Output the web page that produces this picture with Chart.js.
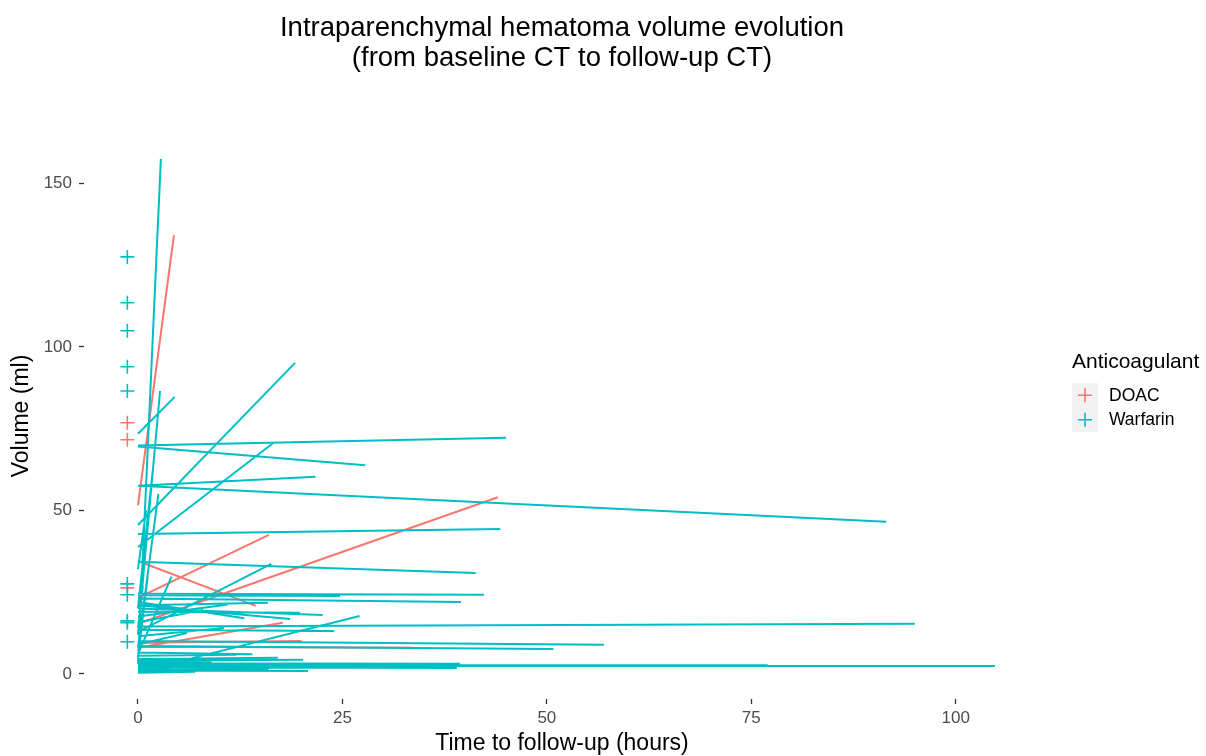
<!DOCTYPE html>
<html>
<head>
<meta charset="utf-8">
<title>Intraparenchymal hematoma volume evolution</title>
<script src="https://cdn.jsdelivr.net/npm/chart.js@4.4.1/dist/chart.umd.min.js"></script>
<style>
  html, body { margin: 0; padding: 0; background: #ffffff; }
  #wrap { width: 1206px; height: 756px; }
</style>
</head>
<body>
<div id="wrap"><canvas id="myChart" width="1206" height="756"></canvas></div>
<script>
// Baseline volume at hour 0, follow-up volume at the follow-up time
const doacHours  = [4.4, 44.0, 16.0, 14.4, 17.7, 33.7, 20.0];
const doacBase   = [51.5, 15.3, 23.2, 34.5, 8.0, 8.3, 9.5];
const doacFollow = [134.2, 54.0, 42.5, 20.8, 15.6, 8.0, 10.0];

const warfarinHours = [2.8, 2.7, 4.5, 2.5, 1.8, 1.0, 1.2, 0.6, 4.1,
  45.0, 27.8, 21.7, 91.5, 44.3, 41.3, 19.2, 16.5, 16.3, 42.3, 24.7, 39.5,
  15.9, 22.6, 19.8, 18.6, 27.1, 24.0, 95.0, 57.0, 50.8, 17.1, 20.2, 39.4,
  104.8, 39.0, 20.8, 77.0, 11.0, 13.0, 8.0, 10.5, 6.0, 14.0, 12.0, 9.0,
  5.0, 16.0, 3.0, 7.0];
const warfarinBase = [3.0, 12.0, 73.4, 8.0, 20.0, 32.0, 5.0, 14.0, 6.0,
  69.8, 69.5, 57.5, 57.5, 42.8, 34.3, 45.5, 38.8, 12.8, 24.5, 24.0, 23.0,
  21.0, 20.0, 19.0, 21.0, 0.6, 13.5, 14.5, 10.0, 8.5, 4.5, 4.0, 3.2,
  2.5, 2.0, 1.0, 2.8, 17.5, 22.0, 15.8, 11.5, 9.0, 6.5, 5.5, 3.5,
  1.5, 1.2, 0.5, 0.3];
const warfarinFollow = [157.5, 86.5, 84.7, 55.0, 62.0, 50.0, 30.0, 27.0, 29.7,
  72.2, 63.8, 60.3, 46.5, 44.3, 30.8, 95.1, 70.5, 33.6, 24.2, 23.8, 22.0,
  21.7, 18.0, 18.7, 16.8, 17.7, 13.1, 15.3, 8.9, 7.6, 4.9, 4.3, 3.1,
  2.4, 1.8, 0.9, 2.6, 21.2, 17.0, 19.5, 14.0, 12.5, 6.0, 5.8, 3.8,
  2.0, 1.5, 0.8, 0.6];

// Patients without follow-up CT, shown left of zero
const noFollowX = -1.3;
const doacNoFollow = [76.8, 71.6, 26.3];
const warfarinNoFollow = [127.5, 113.5, 104.9, 93.9, 86.5, 27.5, 24.2, 16.2, 15.6, 9.8];

const xTicks = [0, 25, 50, 75, 100];
const yTicks = [0, 50, 100, 150];

const doacColor = "#F8766D";
const warfarinColor = "#00BFC4";
const fontFamily = "'Liberation Sans', Arial, Helvetica, sans-serif";

function segments(hours, base, follow) {
  const pts = [];
  for (let i = 0; i < hours.length; i++) {
    pts.push({ x: 0, y: base[i] });
    pts.push({ x: hours[i], y: follow[i] });
    pts.push({ x: hours[i], y: null });
  }
  return pts;
}

function markers(values) {
  return values.map(v => ({ x: noFollowX, y: v }));
}

// hand-drawn legend like ggplot's, right of the panel
const legendPlugin = {
  id: "ggLegend",
  afterDraw(chart) {
    const c = chart.ctx;
    const left = 1072;
    c.save();
    c.fillStyle = "#000000";
    c.font = "21px " + fontFamily;
    c.textBaseline = "middle";
    c.textAlign = "left";
    c.fillText("Anticoagulant", left, 362);
    const items = [["DOAC", doacColor], ["Warfarin", warfarinColor]];
    items.forEach((it, i) => {
      const top = 383 + i * 24.5;
      c.fillStyle = "#f2f2f2";
      c.fillRect(left, top, 26, 24.5);
      const cx = left + 13, cy = top + 12.25;
      c.strokeStyle = it[1];
      c.lineWidth = 1.6;
      c.beginPath();
      c.moveTo(cx - 7, cy); c.lineTo(cx + 7, cy);
      c.moveTo(cx, cy - 7); c.lineTo(cx, cy + 7);
      c.stroke();
      c.fillStyle = "#000000";
      c.font = "17.5px " + fontFamily;
      c.fillText(it[0], left + 37, cy + 0.5);
    });
    c.restore();
  }
};

const myChart = new Chart("myChart", {
  type: "scatter",
  data: {
    datasets: [
      {
        label: "Warfarin",
        data: segments(warfarinHours, warfarinBase, warfarinFollow),
        showLine: true,
        spanGaps: false,
        borderColor: warfarinColor,
        borderWidth: 2,
        pointRadius: 0,
        order: 1,
      },
      {
        label: "DOAC",
        data: segments(doacHours, doacBase, doacFollow),
        showLine: true,
        spanGaps: false,
        borderColor: doacColor,
        borderWidth: 2,
        pointRadius: 0,
        order: 2,
      },
      {
        label: "Warfarin no follow-up",
        data: markers(warfarinNoFollow),
        pointStyle: "cross",
        pointRadius: 7,
        borderColor: warfarinColor,
        borderWidth: 1.6,
        order: 1,
      },
      {
        label: "DOAC no follow-up",
        data: markers(doacNoFollow),
        pointStyle: "cross",
        pointRadius: 7,
        borderColor: doacColor,
        borderWidth: 1.6,
        order: 2,
      },
    ],
  },
  options: {
    responsive: false,
    animation: false,
    layout: { padding: { left: 0, right: 166, top: 0, bottom: 0 } },
    plugins: {
      legend: { display: false },
      tooltip: { enabled: false },
      title: {
        display: true,
        fullSize: false,
        text: ["Intraparenchymal hematoma volume evolution", "(from baseline CT to follow-up CT)"],
        color: "#000000",
        font: { family: fontFamily, size: 27.5, weight: "normal", lineHeight: 30 / 27.5 },
        padding: { top: 13, bottom: 60 },
      },
    },
    scales: {
      x: {
        type: "linear",
        min: -6.6,
        max: 110.3,
        afterBuildTicks: axis => { axis.ticks = xTicks.map(v => ({ value: v })); },
        afterFit: scale => { scale.height = 57; },
        border: { display: false },
        grid: { drawOnChartArea: false, drawTicks: true, tickLength: 5, tickColor: "#333333", tickWidth: 1.3 },
        ticks: { color: "#4d4d4d", padding: 4, font: { family: fontFamily, size: 17 } },
        title: {
          display: true,
          text: "Time to follow-up (hours)",
          color: "#000000",
          font: { family: fontFamily, size: 23, lineHeight: 24 / 23 },
          padding: 0,
        },
      },
      y: {
        type: "linear",
        min: -7.7,
        max: 165.4,
        afterBuildTicks: axis => { axis.ticks = yTicks.map(v => ({ value: v })); },
        afterFit: scale => { scale.width = 84; },
        border: { display: false },
        grid: { drawOnChartArea: false, drawTicks: true, tickLength: 5, tickColor: "#333333", tickWidth: 1.3 },
        ticks: { color: "#4d4d4d", padding: 7, font: { family: fontFamily, size: 17 } },
        title: {
          display: true,
          text: "Volume (ml)",
          color: "#000000",
          font: { family: fontFamily, size: 23, lineHeight: 1.2 },
          padding: { top: 8, bottom: 0 },
        },
      },
    },
  },
  plugins: [legendPlugin],
});
</script>
</body>
</html>
